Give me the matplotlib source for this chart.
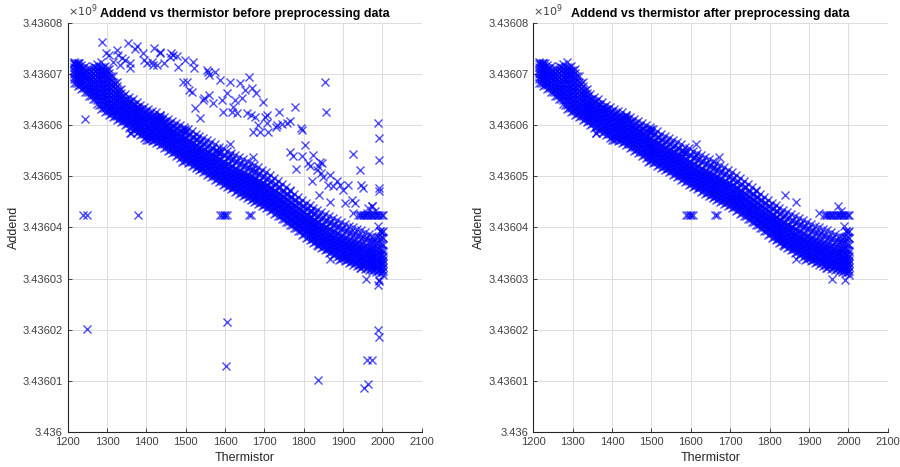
import matplotlib
matplotlib.use("Agg")
import matplotlib.pyplot as plt
from matplotlib.ticker import FuncFormatter

plt.rcParams['font.family'] = ['Liberation Sans', 'DejaVu Sans']

# addend values are given in thousands of counts above 3.436e9
BASE = 3.436e9

# main band: one thermistor value per column, addend values (k counts) in that column
band_t = [1215, 1225, 1235, 1245, 1255, 1265, 1275, 1285, 1295, 1305,
          1315, 1325, 1335, 1345, 1355, 1365, 1375, 1385, 1395, 1405,
          1415, 1425, 1435, 1445, 1455, 1465, 1475, 1485, 1495, 1505,
          1515, 1525, 1535, 1545, 1555, 1565, 1575, 1585, 1595, 1605,
          1615, 1625, 1635, 1645, 1655, 1665, 1675, 1685, 1695, 1705,
          1715, 1725, 1735, 1745, 1755, 1765, 1775, 1785, 1795, 1805,
          1815, 1825, 1835, 1845, 1855, 1865, 1875, 1885, 1895, 1905,
          1915, 1925, 1935, 1945, 1955, 1965, 1975, 1985, 1995, 2002]
band_k = [
    [68.2, 68.9, 69.4, 69.9, 70.3, 70.8, 71.3, 71.9, 72.4],
    [67.6, 68.3, 68.9, 69.4, 69.9, 70.4, 70.9, 71.5, 72.1],
    [67.1, 67.8, 68.4, 69.0, 69.5, 70.0, 70.6, 71.2, 71.8],
    [66.5, 67.3, 67.9, 68.5, 69.1, 69.6, 70.2, 70.8, 71.5],
    [65.6, 66.4, 67.1, 67.8, 68.4, 69.0, 69.6, 70.3, 71.1],
    [65.0, 65.8, 66.6, 67.3, 68.0, 68.7, 69.4, 70.2, 71.0, 71.6],
    [64.1, 64.9, 65.7, 66.5, 67.2, 68.0, 68.8, 69.6, 70.4, 71.2, 72.0],
    [63.1, 64.0, 64.9, 65.7, 66.5, 67.3, 68.1, 68.9, 69.7, 70.5, 71.4, 72.3],
    [62.6, 63.4, 64.2, 65.0, 65.8, 66.6, 67.4, 68.2, 69.0, 69.9, 70.7, 71.5],
    [62.0, 62.8, 63.6, 64.3, 65.1, 65.9, 66.7, 67.5, 68.4, 69.3, 70.2, 71.0],
    [61.5, 62.3, 63.0, 63.7, 64.4, 65.1, 65.9, 66.7, 67.6, 68.5, 69.5],
    [61.0, 61.8, 62.5, 63.2, 63.9, 64.6, 65.3, 66.1, 66.9, 67.7, 68.5],
    [60.5, 61.3, 62.0, 62.7, 63.4, 64.1, 64.8, 65.5, 66.3, 67.0],
    [60.0, 60.8, 61.5, 62.2, 62.9, 63.6, 64.3, 65.1, 66.0],
    [59.5, 60.3, 61.0, 61.7, 62.4, 63.1, 63.8, 64.6, 65.5],
    [59.0, 59.8, 60.5, 61.2, 61.9, 62.6, 63.3, 64.1, 65.0],
    [58.5, 59.3, 60.0, 60.7, 61.4, 62.1, 62.8, 63.6, 64.5],
    [58.0, 58.8, 59.5, 60.2, 60.9, 61.6, 62.3, 63.1, 64.0],
    [57.5, 58.3, 59.0, 59.7, 60.4, 61.1, 61.8, 62.6, 63.6],
    [57.0, 57.8, 58.5, 59.2, 59.9, 60.6, 61.3, 62.1, 63.1],
    [56.8, 57.5, 58.2, 58.9, 59.6, 60.3, 61.0, 61.8, 62.8],
    [56.5, 57.2, 57.9, 58.6, 59.3, 60.0, 60.7, 61.5, 62.5],
    [56.0, 56.8, 57.5, 58.2, 58.9, 59.6, 60.3, 61.1, 62.0],
    [55.5, 56.3, 57.0, 57.7, 58.4, 59.1, 59.8, 60.6, 61.6],
    [55.0, 55.8, 56.5, 57.2, 57.9, 58.6, 59.3, 60.2, 61.2],
    [54.5, 55.3, 56.0, 56.7, 57.4, 58.1, 58.8, 59.8, 60.8],
    [54.0, 54.8, 55.5, 56.2, 56.9, 57.6, 58.4, 59.4, 60.4],
    [53.5, 54.3, 55.0, 55.7, 56.4, 57.1, 57.9, 58.9, 60.0],
    [53.0, 53.8, 54.5, 55.2, 55.9, 56.6, 57.4, 58.5, 59.6],
    [52.5, 53.3, 54.0, 54.7, 55.4, 56.1, 56.9, 58.0, 59.2],
    [52.0, 52.8, 53.5, 54.2, 54.9, 55.6, 56.4, 57.6, 58.8],
    [51.6, 52.4, 53.1, 53.8, 54.5, 55.2, 56.0, 57.1, 58.3],
    [51.2, 52.0, 52.7, 53.4, 54.1, 54.8, 55.6, 56.7, 57.8],
    [50.8, 51.6, 52.3, 53.0, 53.7, 54.4, 55.2, 56.3, 57.4],
    [50.3, 51.1, 51.8, 52.5, 53.2, 53.9, 54.7, 55.8, 57.0],
    [49.8, 50.6, 51.3, 52.0, 52.7, 53.4, 54.2, 55.4, 56.6],
    [49.3, 50.1, 50.8, 51.5, 52.2, 52.9, 53.8, 55.0, 56.2],
    [48.8, 49.6, 50.3, 51.0, 51.7, 52.4, 53.3, 54.5, 55.8],
    [48.3, 49.1, 49.8, 50.5, 51.2, 51.9, 52.8, 54.1, 55.5],
    [47.8, 48.6, 49.3, 50.0, 50.7, 51.4, 52.3, 53.6, 55.0],
    [47.4, 48.2, 48.9, 49.6, 50.3, 51.0, 51.9, 53.2, 54.6],
    [47.0, 47.8, 48.5, 49.2, 49.9, 50.6, 51.5, 52.8, 54.2],
    [46.6, 47.4, 48.1, 48.8, 49.5, 50.2, 51.1, 52.4, 53.8],
    [46.2, 47.0, 47.7, 48.4, 49.1, 49.8, 50.7, 52.0, 53.4],
    [45.8, 46.6, 47.3, 48.0, 48.7, 49.4, 50.3, 51.6, 53.0],
    [45.4, 46.2, 46.9, 47.6, 48.3, 49.0, 49.9, 51.2, 52.6],
    [45.0, 45.8, 46.5, 47.2, 47.9, 48.6, 49.5, 50.8, 52.2],
    [44.6, 45.4, 46.1, 46.8, 47.5, 48.2, 49.1, 50.4, 51.8],
    [44.2, 45.0, 45.7, 46.4, 47.1, 47.8, 48.7, 49.9, 51.3],
    [43.7, 44.5, 45.2, 45.9, 46.6, 47.3, 48.2, 49.4, 50.8],
    [43.2, 44.0, 44.7, 45.4, 46.1, 46.8, 47.7, 48.9, 50.2],
    [42.7, 43.5, 44.2, 44.9, 45.6, 46.3, 47.2, 48.3, 49.6],
    [42.2, 43.0, 43.7, 44.4, 45.1, 45.8, 46.7, 47.8, 49.0],
    [41.6, 42.4, 43.1, 43.8, 44.5, 45.2, 46.1, 47.2, 48.4],
    [41.0, 41.8, 42.5, 43.2, 43.9, 44.6, 45.5, 46.6, 47.8],
    [40.4, 41.2, 41.9, 42.6, 43.3, 44.0, 44.9, 46.0, 47.2],
    [39.8, 40.6, 41.3, 42.0, 42.7, 43.4, 44.3, 45.4, 46.6],
    [39.2, 40.0, 40.7, 41.4, 42.1, 42.8, 43.7, 44.8, 46.0],
    [38.6, 39.4, 40.1, 40.8, 41.5, 42.2, 43.1, 44.2, 45.4],
    [38.0, 38.8, 39.5, 40.2, 40.9, 41.6, 42.5, 43.6, 44.8],
    [37.5, 38.3, 39.0, 39.7, 40.4, 41.1, 42.0, 43.1, 44.3],
    [37.0, 37.8, 38.5, 39.2, 39.9, 40.6, 41.5, 42.6, 43.8],
    [36.5, 37.3, 38.0, 38.7, 39.4, 40.1, 41.0, 42.1, 43.4],
    [36.0, 36.8, 37.5, 38.2, 38.9, 39.6, 40.5, 41.7, 43.0],
    [35.5, 36.3, 37.0, 37.7, 38.4, 39.1, 40.0, 41.3, 42.6],
    [35.0, 35.8, 36.5, 37.2, 37.9, 38.6, 39.6, 40.9, 42.2],
    [34.6, 35.4, 36.1, 36.8, 37.5, 38.2, 39.2, 40.5, 41.8],
    [34.2, 35.0, 35.7, 36.4, 37.1, 37.8, 38.8, 40.1, 41.4],
    [33.8, 34.6, 35.3, 36.0, 36.7, 37.4, 38.4, 39.7, 41.0],
    [33.4, 34.2, 34.9, 35.6, 36.3, 37.0, 38.0, 39.3, 40.6],
    [33.0, 33.8, 34.5, 35.2, 35.9, 36.6, 37.6, 38.9, 40.3],
    [32.7, 33.5, 34.2, 34.9, 35.6, 36.3, 37.3, 38.6, 40.0],
    [32.4, 33.2, 33.9, 34.6, 35.3, 36.0, 37.0, 38.3, 39.7],
    [32.1, 32.9, 33.6, 34.3, 35.0, 35.7, 36.7, 38.0, 39.4],
    [31.8, 32.6, 33.3, 34.0, 34.7, 35.4, 36.4, 37.7, 39.0],
    [31.6, 32.4, 33.1, 33.8, 34.5, 35.2, 36.1, 37.4, 38.7],
    [31.4, 32.2, 32.9, 33.6, 34.3, 35.0, 35.9, 37.1, 38.4],
    [31.2, 32.0, 32.7, 33.4, 34.1, 34.8, 35.7, 36.9, 38.1],
    [31.0, 31.8, 32.5, 33.2, 33.9, 34.6, 35.5, 36.8, 38.0, 39.2],
    [30.6, 31.5, 32.3, 33.0, 33.7, 34.4, 35.3, 36.6, 38.0, 39.3],
]

# denser core of the band, read between the columns above
core_t = [1220, 1230, 1240, 1250, 1260, 1270, 1280, 1290, 1300, 1310,
          1320, 1330, 1340, 1350, 1360, 1370, 1380, 1390, 1400, 1410,
          1420, 1430, 1440, 1450, 1460, 1470, 1480, 1490, 1500, 1510,
          1520, 1530, 1540, 1550, 1560, 1570, 1580, 1590, 1600, 1610,
          1620, 1630, 1640, 1650, 1660, 1670, 1680, 1690, 1700, 1710,
          1720, 1730, 1740, 1750, 1760, 1770, 1780, 1790, 1800, 1810,
          1820, 1830, 1840, 1850, 1860, 1870, 1880, 1890, 1900, 1910,
          1920, 1930, 1940, 1950, 1960, 1970, 1980, 1990, 1999]
core_k = [
    [68.3, 69.0, 69.7, 70.4, 71.1, 71.7],
    [67.8, 68.5, 69.2, 69.9, 70.6, 71.4],
    [67.2, 68.0, 68.7, 69.4, 70.2, 71.1],
    [66.5, 67.3, 68.0, 68.8, 69.6, 70.6],
    [65.7, 66.5, 67.3, 68.1, 68.9, 69.7, 70.5],
    [65.0, 65.8, 66.6, 67.4, 68.2, 69.0, 69.8, 70.6, 71.3],
    [64.0, 64.9, 65.7, 66.5, 67.3, 68.1, 68.9, 69.7, 70.5, 71.3],
    [63.3, 64.1, 64.9, 65.7, 66.5, 67.3, 68.1, 68.9, 69.7, 70.5, 71.3],
    [62.7, 63.5, 64.3, 65.1, 65.9, 66.7, 67.5, 68.3, 69.1, 69.9, 70.7],
    [62.2, 63.0, 63.8, 64.6, 65.4, 66.2, 67.0, 67.8, 68.6, 69.5],
    [61.7, 62.5, 63.3, 64.1, 64.9, 65.7, 66.5, 67.3, 68.2],
    [61.2, 62.0, 62.8, 63.6, 64.4, 65.2, 66.0, 66.9],
    [60.7, 61.4, 62.1, 62.8, 63.5, 64.2, 64.9, 65.7],
    [60.2, 60.9, 61.6, 62.3, 63.0, 63.7, 64.4, 65.1],
    [59.7, 60.4, 61.1, 61.8, 62.5, 63.2, 63.9, 64.6],
    [59.2, 59.9, 60.6, 61.3, 62.0, 62.7, 63.4, 64.1],
    [58.7, 59.4, 60.1, 60.8, 61.5, 62.2, 62.9, 63.6],
    [58.2, 58.9, 59.6, 60.3, 61.0, 61.7, 62.4, 63.1],
    [57.7, 58.4, 59.1, 59.8, 60.5, 61.2, 61.9, 62.7],
    [57.3, 58.0, 58.7, 59.4, 60.1, 60.8, 61.5, 62.3],
    [57.1, 57.8, 58.5, 59.2, 59.9, 60.6, 61.3, 62.0],
    [56.7, 57.4, 58.1, 58.8, 59.5, 60.2, 60.9, 61.6],
    [56.2, 56.9, 57.6, 58.3, 59.0, 59.7, 60.4, 61.2],
    [55.7, 56.4, 57.1, 57.8, 58.5, 59.2, 59.9, 60.7],
    [55.2, 55.9, 56.6, 57.3, 58.0, 58.7, 59.4, 60.3],
    [54.7, 55.4, 56.1, 56.8, 57.5, 58.2, 58.9, 59.8],
    [54.2, 54.9, 55.6, 56.3, 57.0, 57.7, 58.4, 59.4],
    [53.7, 54.4, 55.1, 55.8, 56.5, 57.2, 57.9, 59.0],
    [53.2, 53.9, 54.6, 55.3, 56.0, 56.7, 57.4, 58.6],
    [52.7, 53.4, 54.1, 54.8, 55.5, 56.2, 56.9, 58.2],
    [52.2, 52.9, 53.6, 54.3, 55.0, 55.7, 56.5, 57.7],
    [51.8, 52.5, 53.2, 53.9, 54.6, 55.3, 56.1, 57.2],
    [51.4, 52.1, 52.8, 53.5, 54.2, 54.9, 55.7, 56.8],
    [51.0, 51.7, 52.4, 53.1, 53.8, 54.5, 55.3, 56.4],
    [50.5, 51.2, 51.9, 52.6, 53.3, 54.0, 54.8, 56.0],
    [50.0, 50.7, 51.4, 52.1, 52.8, 53.5, 54.3, 55.6],
    [49.5, 50.2, 50.9, 51.6, 52.3, 53.0, 53.8, 55.1],
    [49.0, 49.7, 50.4, 51.1, 51.8, 52.5, 53.3, 54.7],
    [48.5, 49.2, 49.9, 50.6, 51.3, 52.0, 52.8, 54.2],
    [48.0, 48.7, 49.4, 50.1, 50.8, 51.5, 52.3, 53.8],
    [47.6, 48.3, 49.0, 49.7, 50.4, 51.1, 51.9, 53.4],
    [47.2, 47.9, 48.6, 49.3, 50.0, 50.7, 51.5, 53.0],
    [46.8, 47.5, 48.2, 48.9, 49.6, 50.3, 51.1, 52.6],
    [46.4, 47.1, 47.8, 48.5, 49.2, 49.9, 50.7, 52.2],
    [46.0, 46.7, 47.4, 48.1, 48.8, 49.5, 50.3, 51.8],
    [45.6, 46.3, 47.0, 47.7, 48.4, 49.1, 49.9, 51.4],
    [45.2, 45.9, 46.6, 47.3, 48.0, 48.7, 49.5, 51.0],
    [44.8, 45.5, 46.2, 46.9, 47.6, 48.3, 49.1, 50.6],
    [44.4, 45.1, 45.8, 46.5, 47.2, 47.9, 48.7, 50.1],
    [43.9, 44.6, 45.3, 46.0, 46.7, 47.4, 48.2, 49.6],
    [43.4, 44.1, 44.8, 45.5, 46.2, 46.9, 47.7, 49.0],
    [42.9, 43.6, 44.3, 45.0, 45.7, 46.4, 47.2, 48.4],
    [42.3, 43.0, 43.7, 44.4, 45.1, 45.8, 46.6, 47.8],
    [41.7, 42.4, 43.1, 43.8, 44.5, 45.2, 46.0, 47.2],
    [41.1, 41.8, 42.5, 43.2, 43.9, 44.6, 45.4, 46.6],
    [40.5, 41.2, 41.9, 42.6, 43.3, 44.0, 44.8, 46.0],
    [39.9, 40.6, 41.3, 42.0, 42.7, 43.4, 44.2, 45.4],
    [39.3, 40.0, 40.7, 41.4, 42.1, 42.8, 43.6, 44.8],
    [38.7, 39.4, 40.1, 40.8, 41.5, 42.2, 43.0, 44.2],
    [38.2, 38.9, 39.6, 40.3, 41.0, 41.7, 42.5, 43.7],
    [37.7, 38.4, 39.1, 39.8, 40.5, 41.2, 42.0, 43.2],
    [37.2, 37.9, 38.6, 39.3, 40.0, 40.7, 41.5, 42.8],
    [36.7, 37.4, 38.1, 38.8, 39.5, 40.2, 41.0, 42.4],
    [36.2, 36.9, 37.6, 38.3, 39.0, 39.7, 40.5, 42.0],
    [35.7, 36.4, 37.1, 37.8, 38.5, 39.2, 40.0, 41.5],
    [35.2, 35.9, 36.6, 37.3, 38.0, 38.7, 39.5, 41.0],
    [34.8, 35.5, 36.2, 36.9, 37.6, 38.3, 39.1, 40.6],
    [34.4, 35.1, 35.8, 36.5, 37.2, 37.9, 38.7, 40.2],
    [34.0, 34.7, 35.4, 36.1, 36.8, 37.5, 38.3, 39.8],
    [33.6, 34.3, 35.0, 35.7, 36.4, 37.1, 37.9, 39.4],
    [33.3, 34.0, 34.7, 35.4, 36.1, 36.8, 37.6, 39.1],
    [33.0, 33.7, 34.4, 35.1, 35.8, 36.5, 37.3, 38.8],
    [32.7, 33.4, 34.1, 34.8, 35.5, 36.2, 37.0, 38.5],
    [32.4, 33.1, 33.8, 34.5, 35.2, 35.9, 36.7, 38.2],
    [32.1, 32.8, 33.5, 34.2, 34.9, 35.6, 36.4, 37.9],
    [31.9, 32.6, 33.3, 34.0, 34.7, 35.4, 36.2, 37.6],
    [31.7, 32.4, 33.1, 33.8, 34.5, 35.2, 36.0, 37.3],
    [31.5, 32.2, 32.9, 33.6, 34.3, 35.0, 35.8, 37.0, 38.1],
    [31.2, 31.9, 32.6, 33.3, 34.0, 34.7, 35.5, 36.8, 38.2, 39.0],
]

# points kept after preprocessing that sit off the band
kept_t = [1217, 1221, 1225, 1229, 1280, 1335, 1360, 1436, 1458, 1496,
          1580, 1612, 1671, 1838, 1867, 1926, 1973, 1981, 1990, 1994,
          1836, 1859, 1867, 1891, 1905, 1942, 1958, 1991,
          1358, 1400, 1490, 1541, 1621, 1435, 1498, 1583, 1613, 1765,
          1588, 1592, 1597, 1601, 1605, 1662, 1666,
          1938, 1942, 1946, 1950, 1954, 1958, 1962, 1966, 1970, 1974,
          1978, 1982, 1986, 1990, 1994, 1998, 2002]
kept_k = [72.06, 72.06, 72.06, 72.06, 68.94, 63.28, 58.53, 61.65, 59.38, 59.05,
          54.82, 56.32, 53.72, 46.36, 44.87, 42.78, 44.09, 43.11, 40.18, 39.20,
          36.34, 35.69, 33.86, 33.60, 34.25, 32.09, 30.00, 29.67,
          58.45, 57.09, 52.84, 51.55, 47.95, 61.97, 59.18, 54.80, 54.15, 47.31,
          42.46, 42.46, 42.46, 42.46, 42.46, 42.46, 42.46,
          42.46, 42.46, 42.46, 42.46, 42.46, 42.46, 42.46, 42.46, 42.46, 42.46,
          42.46, 42.46, 42.46, 42.46, 42.46, 42.46, 42.46]

# points removed by preprocessing (only in the "before" plot)
removed_t = [1286, 1353, 1375, 1371, 1326, 1297, 1305, 1329, 1337, 1346,
             1358, 1358, 1333, 1316, 1392, 1394, 1401, 1414, 1419, 1418,
             1426, 1435, 1436, 1445, 1460, 1462, 1469, 1477, 1481, 1498,
             1492, 1503, 1509, 1519, 1521, 1515, 1524, 1536, 1543, 1547,
             1553, 1558, 1560, 1575, 1560, 1570, 1587, 1592, 1594, 1604,
             1613, 1617, 1621, 1630, 1625, 1638, 1642, 1651, 1655, 1662,
             1665, 1669, 1676, 1672, 1680, 1685, 1689, 1697, 1702, 1706,
             1708, 1710, 1730, 1731, 1738, 1744, 1757, 1765, 1765, 1774,
             1778, 1780, 1792, 1795, 1797, 1803, 1812, 1816, 1820, 1825,
             1833, 1837, 1842, 1843, 1846, 1848, 1854, 1858, 1863, 1867,
             1875, 1884, 1892, 1901, 1905, 1914, 1922, 1926, 1931, 1943,
             1945, 1952, 1960, 1964, 1973, 1990, 1992, 1992, 1992, 1992,
             1238, 1250, 1378, 1244,
             1248, 1606, 1602, 1836, 1954, 1964, 1962, 1975, 1990, 1992,
             1990, 1991]
removed_k = [76.16, 75.97, 75.51, 74.86, 74.67, 74.02, 73.69, 73.69, 73.04, 72.71,
             72.06, 71.09, 71.74, 72.39, 74.02, 72.71, 72.06, 72.39, 74.99, 71.74,
             71.74, 74.34, 74.02, 72.06, 73.37, 74.15, 73.69, 73.49, 71.41, 72.71,
             68.49, 68.49, 66.86, 72.39, 71.09, 66.54, 63.28, 61.33, 64.90, 65.23,
             70.76, 70.44, 69.79, 70.44, 65.88, 64.26, 68.81, 64.91, 62.63, 66.21,
             68.49, 62.63, 63.61, 62.30, 64.91, 68.16, 65.23, 66.86, 62.30, 69.46,
             61.98, 67.19, 61.65, 58.73, 66.21, 60.03, 58.73, 64.58, 61.65, 61.98,
             60.35, 58.73, 59.70, 60.03, 62.63, 60.22, 60.35, 60.87, 54.82, 53.85,
             63.61, 51.38, 59.38, 59.05, 53.85, 56.12, 52.55, 51.90, 48.97, 54.17,
             51.25, 51.90, 52.87, 50.60, 52.55, 49.94, 68.49, 62.63, 48.32, 50.27,
             47.99, 48.97, 48.32, 47.34, 44.74, 48.32, 45.39, 54.37, 44.74, 51.25,
             48.32, 47.67, 42.79, 43.76, 44.09, 60.35, 57.43, 53.20, 47.67, 47.02,
             42.46, 42.46, 42.46, 61.13,
             20.13, 21.50, 12.94, 10.13, 8.56, 9.34, 14.05, 14.05, 20.00, 18.56,
             28.82, 29.50]


def to_axis(k_values):
    return [(BASE + k * 1e3) / 1e9 for k in k_values]


band_x, band_y = [], []
for t, col in zip(band_t + core_t, band_k + core_k):
    band_x += [t] * len(col)
    band_y += col

after_x = band_x + kept_t
after_y = band_y + kept_k
before_x = after_x + removed_t
before_y = after_y + removed_k

fig = plt.figure(figsize=(9, 4.67), dpi=100)
ax1 = fig.add_axes([0.0752, 0.0749, 0.3933, 0.8765])
ax2 = fig.add_axes([0.5926, 0.0749, 0.3938, 0.8765])

panels = [(ax1, before_x, before_y, 'Addend vs thermistor before preprocessing data'),
          (ax2, after_x, after_y, 'Addend vs thermistor after preprocessing data')]

for ax, xs, ys, title in panels:
    ax.plot(xs, to_axis(ys), linestyle='none', marker='x', color='blue',
            markersize=5.5, markeredgewidth=1.0, alpha=0.7)
    ax.set_xlim(1200, 2100)
    ax.set_ylim(3.436, 3.43608)
    ax.set_xticks(range(1200, 2101, 100))
    ax.set_yticks([3.436 + i * 1e-5 for i in range(9)])
    ax.yaxis.set_major_formatter(FuncFormatter(lambda v, p: f"{v:.5f}".rstrip('0')))
    ax.grid(True, color='#dcdcdc', linewidth=0.7)
    ax.set_axisbelow(True)
    for s in ['top', 'right']:
        ax.spines[s].set_visible(False)
    for s in ['left', 'bottom']:
        ax.spines[s].set_color('#262626')
        ax.spines[s].set_linewidth(0.8)
    ax.tick_params(direction='in', length=3, width=0.6, colors='#262626',
                   labelsize=8, labelcolor='#404040')
    ax.set_xlabel('Thermistor', fontsize=9, color='#262626')
    ax.set_ylabel('Addend', fontsize=9, color='#262626', labelpad=2)
    ax.set_title(title, fontsize=9, fontweight='bold', pad=4)
    ax.text(0.0, 1.008, r'$\times 10^{9}$', transform=ax.transAxes,
            fontsize=8, color='#404040', ha='left', va='bottom')

fig.savefig('out.png', dpi=100)
